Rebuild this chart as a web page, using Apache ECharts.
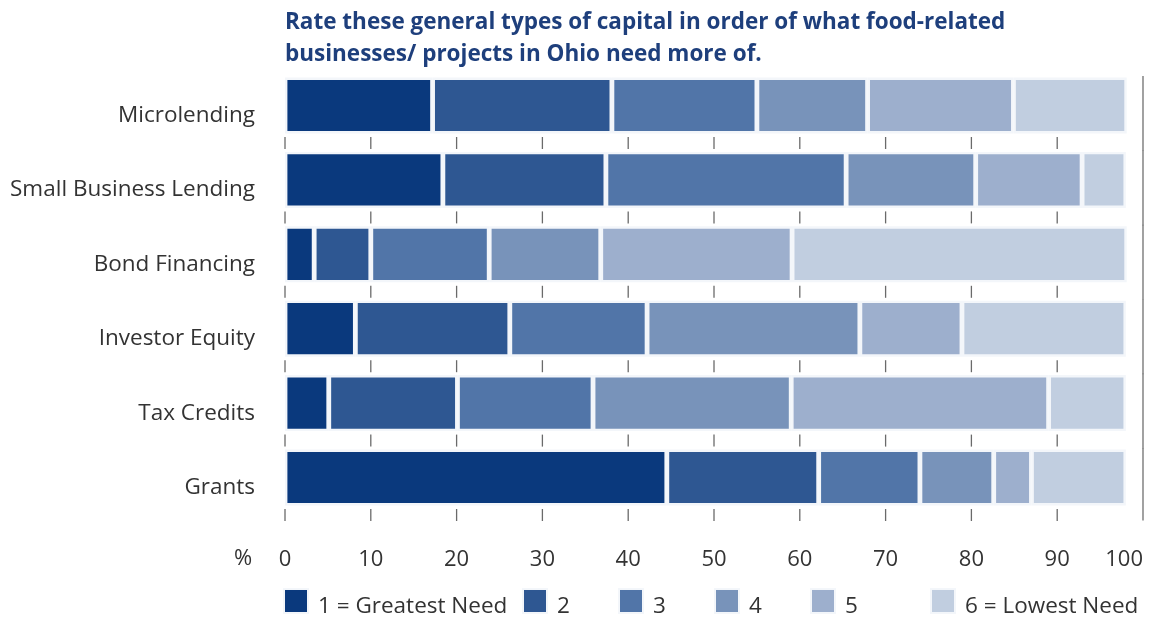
<!DOCTYPE html>
<html>
<head>
<meta charset="utf-8">
<script src="https://cdn.jsdelivr.net/npm/echarts@6/dist/echarts.min.js"></script>
<style>
  html, body { margin: 0; padding: 0; background: #ffffff; }
  #chart { width: 1157px; height: 620px; }
</style>
</head>
<body>
<div id="chart"></div>
<script>
// Survey: types of capital food-related businesses in Ohio need more of (% of respondents by rank)
const categories = ['Microlending', 'Small Business Lending', 'Bond Financing', 'Investor Equity', 'Tax Credits', 'Grants'];
const rankNames = ['1 = Greatest Need', '2', '3', '4', '5', '6 = Lowest Need'];
const rank1 = [17.2, 18.4, 3.4, 8.2, 5.1, 44.5];
const rank2 = [20.9, 19.0, 6.6, 18.0, 15.0, 17.7];
const rank3 = [16.9, 28.0, 13.8, 16.0, 15.8, 11.8];
const rank4 = [12.9, 15.1, 13.0, 24.8, 23.1, 8.6];
const rank5 = [17.0, 12.4, 22.3, 11.9, 30.0, 4.4];
const rank6 = [13.2, 5.1, 39.0, 19.1, 9.0, 11.0];
const tickValues = [0, 10, 20, 30, 40, 50, 60, 70, 80, 90];
const axisMax = 100;

const rankValues = [rank1, rank2, rank3, rank4, rank5, rank6];
const palette = ['#0a397d', '#2e5792', '#5175a8', '#7893ba', '#9dafcd', '#c1cee0'];
const legendLeft = [283, 522, 618, 714, 810, 930];
const FONT = '"Open Sans", "Noto Sans", sans-serif';

const chart = echarts.init(document.getElementById('chart'), null, { renderer: 'canvas' });

const barSeries = rankValues.map((vals, k) => ({
  name: rankNames[k],
  type: 'bar',
  stack: 'rank',
  barWidth: 56,
  data: vals,
  itemStyle: { color: palette[k], borderColor: '#f3f6fa', borderWidth: 2.4 },
  emphasis: { disabled: true },
  z: 3
}));

// short tick marks in the gaps under each bar row
const tickData = [];
categories.forEach((c, i) => tickValues.forEach(v => tickData.push([v, i])));

const tickSeries = {
  type: 'custom',
  silent: true,
  z: 1,
  data: tickData,
  renderItem: function (params, api) {
    const p = api.coord([api.value(0), api.value(1)]);
    return {
      type: 'line',
      shape: { x1: p[0], y1: p[1] + 31.5, x2: p[0], y2: p[1] + 43.5 },
      style: { stroke: '#6a6a6a', lineWidth: 1.3 }
    };
  }
};

// right-hand frame line at the 100% position
const frameSeries = {
  type: 'custom',
  silent: true,
  z: 1,
  data: categories.map((c, i) => [axisMax, i]),
  renderItem: function (params, api) {
    const i = api.value(1);
    const p = api.coord([api.value(0), i]);
    const end = i === categories.length - 1 ? 43 : 45.5;
    return {
      type: 'line',
      shape: { x1: p[0], y1: p[1] - 29.5, x2: p[0], y2: p[1] + end },
      style: { stroke: '#7a7a7a', lineWidth: 1.4 }
    };
  }
};

const legends = rankNames.map((n, k) => ({
  data: [n],
  left: legendLeft[k],
  top: 588,
  padding: 0,
  icon: 'rect',
  itemWidth: 24,
  itemHeight: 24,
  selectedMode: false,
  formatter: name => '{t|' + name + '}',
  textStyle: {
    rich: { t: { fontFamily: FONT, fontSize: 22.5, color: '#333333', padding: [12, 0, 0, 5] } }
  }
}));

chart.setOption({
  animation: false,
  backgroundColor: '#ffffff',
  title: {
    text: 'Rate these general types of capital in order of what food-related\nbusinesses/ projects in Ohio need more of.',
    left: 280,
    top: 2,
    textStyle: { fontFamily: FONT, fontWeight: 'bold', fontSize: 22.5, lineHeight: 32, color: '#1e3f7c' }
  },
  graphic: [{
    type: 'text',
    left: 234,
    top: 548,
    silent: true,
    style: { text: '%', fontFamily: FONT, fontSize: 22, fill: '#333333' }
  }],
  legend: legends,
  grid: { left: 285, right: 14, top: 68.3, height: 446.4, containLabel: false },
  xAxis: {
    type: 'value',
    min: 0,
    max: axisMax,
    interval: 10,
    axisLine: { show: false },
    axisTick: { show: false },
    splitLine: { show: false },
    axisLabel: { fontFamily: FONT, fontSize: 22, color: '#333333', margin: 34, alignMaxLabel: 'right' }
  },
  yAxis: {
    type: 'category',
    data: categories,
    inverse: true,
    axisLine: { show: false },
    axisTick: { show: false },
    splitLine: { show: false },
    axisLabel: {
      margin: 30,
      formatter: v => '{c|' + v + '}',
      rich: { c: { fontFamily: FONT, fontSize: 22.5, color: '#333333', padding: [20, 0, 0, 0] } }
    }
  },
  series: [...barSeries, tickSeries, frameSeries]
});
</script>
</body>
</html>
